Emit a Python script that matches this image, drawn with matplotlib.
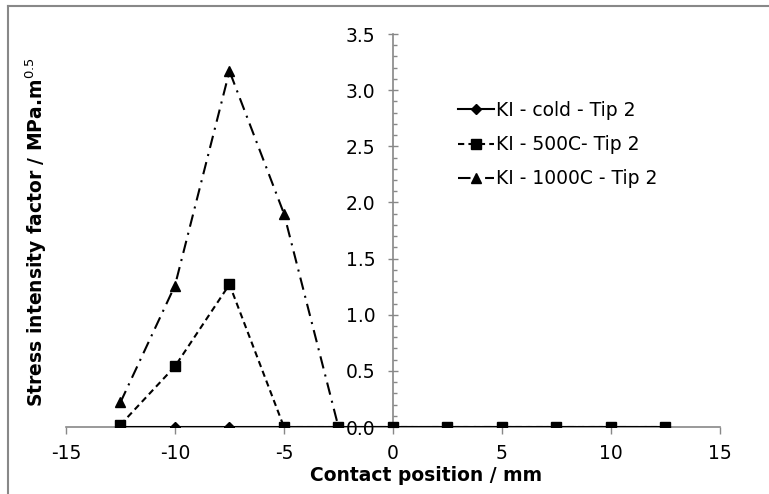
import matplotlib
matplotlib.use("Agg")
import matplotlib.pyplot as plt
from matplotlib.lines import Line2D
from matplotlib.ticker import MultipleLocator, FormatStrFormatter

# contact positions (mm) and KI values (MPa.m^0.5)
position = [-12.5, -10, -7.5, -5, -2.5, 0, 2.5, 5, 7.5, 10, 12.5]
ki_cold = [0, 0, 0, 0, 0, 0, 0, 0, 0, 0, 0]
ki_500c = [0.02, 0.54, 1.27, 0, 0, 0, 0, 0, 0, 0, 0]
ki_1000c = [0.22, 1.26, 3.17, 1.90, 0, 0, 0, 0, 0, 0, 0]
labels = ["KI - cold - Tip 2", "KI - 500C- Tip 2", "KI - 1000C - Tip 2"]

plt.rcParams['font.family'] = ['DejaVu Sans']
plt.rcParams['axes.unicode_minus'] = False
fs = 13.5

fig = plt.figure(figsize=(7.69, 4.94), dpi=100)
ax = fig.add_axes([0.0858, 0.1356, 0.8504, 0.7955])

# outer frame lines (top and left only)
fig.add_artist(Line2D([8 / 769, 8 / 769], [0, 1 - 6 / 494], transform=fig.transFigure,
                      color='#888888', lw=1.5))
fig.add_artist(Line2D([8 / 769, 1], [1 - 6 / 494, 1 - 6 / 494], transform=fig.transFigure,
                      color='#888888', lw=1.5))

ax.plot(position, ki_cold, color='black', lw=1.5, marker='D', markersize=5,
        label=labels[0], zorder=3)
ax.plot(position, ki_500c, color='black', lw=1.5, marker='s', markersize=7.5,
        dashes=(3, 2), label=labels[1], zorder=4)
ax.plot(position, ki_1000c, color='black', lw=1.5, marker='^', markersize=7,
        dashes=(6, 3, 1, 3), label=labels[2], zorder=2.5)

ax.set_xlim(-15, 15)
ax.set_ylim(0, 3.5)

for side in ['top', 'right']:
    ax.spines[side].set_visible(False)
ax.spines['left'].set_position(('data', 0))
ax.spines['bottom'].set_position(('data', 0))
for side in ['left', 'bottom']:
    ax.spines[side].set_color('#888888')
    ax.spines[side].set_linewidth(1.2)
    ax.spines[side].set_zorder(1)

ax.xaxis.set_major_locator(MultipleLocator(5))
ax.yaxis.set_major_locator(MultipleLocator(0.5))
ax.yaxis.set_minor_locator(MultipleLocator(0.1))
ax.yaxis.set_major_formatter(FormatStrFormatter('%.1f'))

ax.tick_params(axis='x', which='major', direction='out', length=5, width=1,
               color='#888888', labelsize=fs, pad=7)
ax.tick_params(axis='y', which='major', direction='inout', length=7.5, width=1,
               color='#888888', labelsize=fs, pad=9)
ax.tick_params(axis='y', which='minor', direction='in', length=3, width=1,
               color='#888888')

ax.set_xlabel('Contact position / mm', fontsize=fs, fontweight='bold')
ax.xaxis.set_label_coords(0.551, -0.098)
ax.set_ylabel('Stress intensity factor / MPa.m$^{0.5}$', fontsize=fs,
              fontweight='bold')
ax.yaxis.set_label_coords(-0.026, 0.496)

ax.legend(loc='upper left', bbox_to_anchor=(458 / 769, 1 - 101 / 494),
          bbox_transform=fig.transFigure, frameon=False, fontsize=fs,
          handlelength=1.9, handletextpad=0.15, labelspacing=0.81,
          borderaxespad=0, borderpad=0)

fig.savefig('out.png', dpi=100)
